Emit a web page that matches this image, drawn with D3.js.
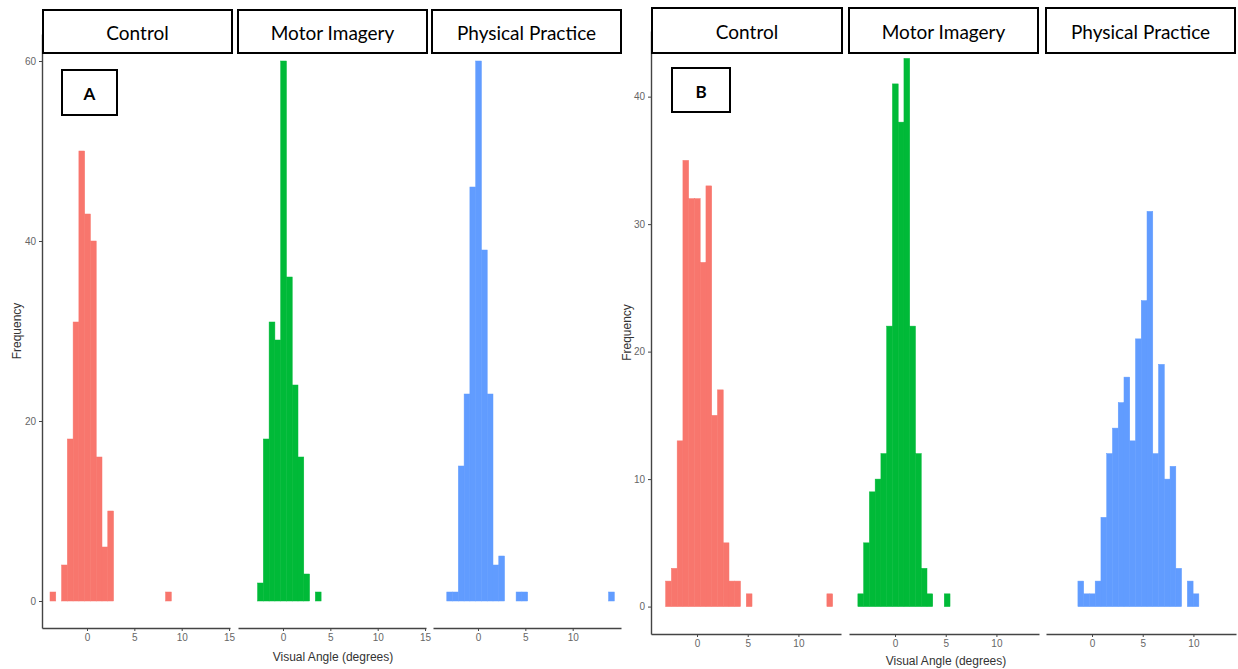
<!DOCTYPE html>
<html>
<head>
<meta charset="utf-8">
<script src="https://cdn.jsdelivr.net/npm/d3@7"></script>
<style>
  body { margin: 0; background: #fff; }
  svg text { font-family: "Liberation Sans", Arial, sans-serif; }
  .strip text, .tag text { font-family: Lato, "Open Sans", sans-serif; }
</style>
</head>
<body>
<div id="chart"></div>
<script>
const groups = ["Control", "Motor Imagery", "Physical Practice"];
const colors = ["#F8766D", "#00BA38", "#619CFF"];

// panel A: 30 bins, counts per bin index
const binWidthA = 0.61;
const firstBinA = -3.6;
const controlA  = [1, 0, 4, 18, 31, 50, 43, 40, 16, 6, 10, 0, 0, 0, 0, 0, 0, 0, 0, 0, 1, 0, 0, 0, 0, 0, 0, 0, 0, 0];
const imageryA  = [0, 0, 2, 18, 31, 29, 60, 36, 24, 16, 3, 0, 1, 0, 0, 0, 0, 0, 0, 0, 0, 0, 0, 0, 0, 0, 0, 0, 0, 0];
const physicalA = [0, 1, 1, 15, 23, 46, 60, 39, 23, 4, 5, 0, 0, 1, 1, 0, 0, 0, 0, 0, 0, 0, 0, 0, 0, 0, 0, 0, 0, 1];
const xTicksA = [[0, 5, 10, 15], [0, 5, 10, 15], [0, 5, 10]];
const yTicksA = [0, 20, 40, 60];

// panel B
const binWidthB = 0.568;
const firstBinB = -3.38;
const controlB  = [0, 2, 3, 13, 35, 32, 32, 27, 33, 15, 17, 5, 2, 2, 0, 1, 0, 0, 0, 0, 0, 0, 0, 0, 0, 0, 0, 0, 0, 1];
const imageryB  = [1, 5, 9, 10, 12, 22, 41, 38, 43, 22, 12, 3, 1, 0, 0, 1, 0, 0, 0, 0, 0, 0, 0, 0, 0, 0, 0, 0, 0, 0];
const physicalB = [0, 0, 0, 0, 2, 1, 1, 2, 7, 12, 14, 16, 18, 13, 21, 24, 31, 12, 19, 10, 11, 3, 0, 2, 1, 0, 0, 0, 0, 0];
const xTicksB = [[0, 5, 10], [0, 5, 10], [0, 5, 10]];
const yTicksB = [0, 10, 20, 30, 40];

const width = 1238, height = 669;

const svg = d3.select("#chart").append("svg")
    .attr("width", width)
    .attr("height", height);

const panels = [
  {
    tag: "A", series: [controlA, imageryA, physicalA],
    binWidth: binWidthA, firstBin: firstBinA,
    xDomain: [-4.75, 15.1], yDomain: [-3, 63],
    facetLeft: [42, 238, 433], facetWidth: 188,
    top: 34, bottom: 628,
    xTicks: xTicksA, yTicks: yTicksA,
    yTitleX: 17, xTitleX: 333, xTitleY: 661,
    strips: [[43, 232], [238, 427], [432, 621]], stripTop: 10, stripBottom: 53,
    tagBox: [62, 70, 55, 45]
  },
  {
    tag: "B", series: [controlB, imageryB, physicalB],
    binWidth: binWidthB, firstBin: firstBinB,
    xDomain: [-4.54, 14.2], yDomain: [-2.15, 45.15],
    facetLeft: [651, 849, 1046], facetWidth: 190,
    top: 31, bottom: 634,
    xTicks: xTicksB, yTicks: yTicksB,
    yTitleX: 627, xTitleX: 946, xTitleY: 665,
    strips: [[652, 842], [849, 1038], [1046, 1235]], stripTop: 8, stripBottom: 53,
    tagBox: [672, 68, 58, 44]
  }
];

panels.forEach(drawPanel);

function drawPanel(p) {
  const g = svg.append("g");

  const y = d3.scaleLinear().domain(p.yDomain).range([p.bottom, p.top]);

  p.series.forEach((counts, i) => {
    const left = p.facetLeft[i];
    const x = d3.scaleLinear().domain(p.xDomain).range([left, left + p.facetWidth]);

    const bins = counts.map((c, k) => ({
      x0: p.firstBin + k * p.binWidth - p.binWidth / 2,
      x1: p.firstBin + k * p.binWidth + p.binWidth / 2,
      count: c
    })).filter(d => d.count > 0);

    // stroke in the same colour hides the seams between neighbouring bins
    g.append("g")
      .selectAll("rect")
      .data(bins)
      .enter()
      .append("rect")
      .attr("x", d => x(d.x0))
      .attr("width", d => x(d.x1) - x(d.x0))
      .attr("y", d => y(d.count))
      .attr("height", d => y(0) - y(d.count))
      .attr("fill", colors[i])
      .attr("stroke", colors[i])
      .attr("stroke-width", 0.5);

    const xAxis = g.append("g")
      .attr("transform", "translate(0," + p.bottom + ")")
      .call(d3.axisBottom(x).tickValues(p.xTicks[i]).tickSize(3).tickPadding(3).tickSizeOuter(0));
    styleAxis(xAxis);
  });

  const yAxis = g.append("g")
    .attr("transform", "translate(" + p.facetLeft[0] + ",0)")
    .call(d3.axisLeft(y).tickValues(p.yTicks).tickSize(3).tickPadding(3).tickSizeOuter(0));
  styleAxis(yAxis);

  g.append("text")
    .attr("transform", "translate(" + p.yTitleX + "," + ((p.top + p.bottom) / 2) + ") rotate(-90)")
    .attr("text-anchor", "middle")
    .attr("dominant-baseline", "central")
    .attr("font-size", 12)
    .attr("fill", "#333")
    .text("Frequency");

  g.append("text")
    .attr("x", p.xTitleX)
    .attr("y", p.xTitleY)
    .attr("text-anchor", "middle")
    .attr("font-size", 12)
    .attr("fill", "#333")
    .text("Visual Angle (degrees)");

  // strip labels drawn as boxes over the panel tops
  const strips = g.append("g").attr("class", "strip");
  p.strips.forEach((s, i) => {
    strips.append("rect")
      .attr("x", s[0])
      .attr("y", p.stripTop)
      .attr("width", s[1] - s[0])
      .attr("height", p.stripBottom - p.stripTop)
      .attr("fill", "#fff")
      .attr("stroke", "#000")
      .attr("stroke-width", 2);
    strips.append("text")
      .attr("x", (s[0] + s[1]) / 2)
      .attr("y", (p.stripTop + p.stripBottom) / 2 + 1)
      .attr("text-anchor", "middle")
      .attr("dominant-baseline", "central")
      .attr("font-size", 19)
      .attr("fill", "#000")
      .text(groups[i]);
  });

  const tag = g.append("g").attr("class", "tag");
  const b = p.tagBox;
  tag.append("rect")
    .attr("x", b[0]).attr("y", b[1])
    .attr("width", b[2]).attr("height", b[3])
    .attr("fill", "#fff")
    .attr("stroke", "#000")
    .attr("stroke-width", 2);
  tag.append("text")
    .attr("x", b[0] + b[2] / 2)
    .attr("y", b[1] + b[3] / 2 + 1)
    .attr("text-anchor", "middle")
    .attr("dominant-baseline", "central")
    .attr("font-size", 17)
    .attr("font-weight", "bold")
    .text(p.tag);
}

function styleAxis(axis) {
  axis.select(".domain").attr("stroke", "#444").attr("stroke-width", 1.4);
  axis.selectAll(".tick line").attr("stroke", "#444");
  axis.selectAll(".tick text").attr("fill", "#666").attr("font-size", 10)
    .attr("font-family", "'Liberation Sans', Arial, sans-serif");
}
</script>
</body>
</html>
